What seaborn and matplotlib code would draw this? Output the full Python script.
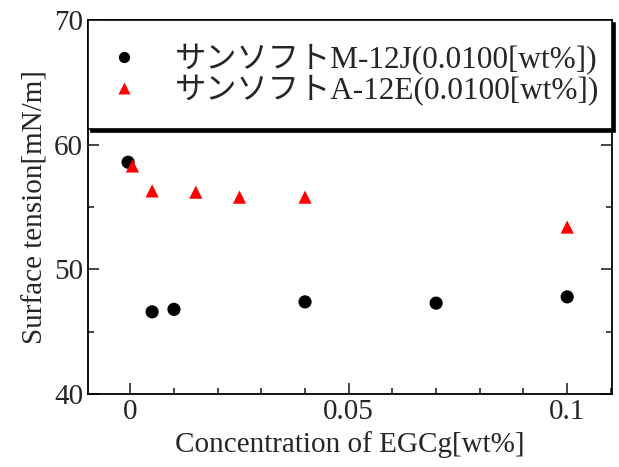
import numpy as np
import pandas as pd
import matplotlib
matplotlib.use("Agg")
import matplotlib.pyplot as plt
import seaborn as sns
from matplotlib.ticker import MultipleLocator

# data
m12j_x = [-0.0005, 0.005, 0.01, 0.04, 0.07, 0.1]
m12j_y = [58.6, 46.6, 46.8, 47.4, 47.3, 47.8]
a12e_x = [0.0005, 0.005, 0.015, 0.025, 0.04, 0.1]
a12e_y = [58.3, 56.3, 56.2, 55.8, 55.8, 53.4]
labels = ["サンソフトM-12J(0.0100[wt%])", "サンソフトA-12E(0.0100[wt%])"]

df = pd.concat([
    pd.DataFrame({"x": m12j_x, "y": m12j_y, "series": labels[0]}),
    pd.DataFrame({"x": a12e_x, "y": a12e_y, "series": labels[1]}),
])

sns.set_style("ticks")
plt.rcParams["font.family"] = ["Liberation Serif", "Noto Sans CJK JP"]

fig = plt.figure(figsize=(6.19, 4.67), dpi=100)
ax = fig.add_axes([0.142, 0.156, 0.847, 0.801])

sns.scatterplot(
    data=df, x="x", y="y", hue="series", style="series",
    palette={labels[0]: "black", labels[1]: "#ff0000"},
    markers={labels[0]: "o", labels[1]: "^"},
    s=90, edgecolor="none", ax=ax, legend=True,
)

ax.set_xlim(-0.0097, 0.1103)
ax.set_ylim(40, 70)
ax.xaxis.set_minor_locator(MultipleLocator(0.01))
ax.yaxis.set_major_locator(MultipleLocator(10))
ax.yaxis.set_minor_locator(MultipleLocator(5))
ax.set_xticks([0, 0.05, 0.1])
ax.set_xticklabels(["0", "0.05", "0.1"])
ax.tick_params(which="both", direction="in", top=True, right=True, labelsize=21, width=1.2)
ax.tick_params(which="major", length=8)
ax.tick_params(which="minor", length=4)
for sp in ax.spines.values():
    sp.set_linewidth(1.3)
    sp.set_color("black")

ax.set_xlabel("Concentration of EGCg[wt%]", fontsize=21)
ax.set_ylabel("Surface tension[mN/m]", fontsize=21)

leg = ax.legend(
    loc="upper left", bbox_to_anchor=(0, 0, 1, 1), mode="expand",
    borderaxespad=0, fontsize=22.5, frameon=True, fancybox=False,
    shadow={"color": "black", "alpha": 1}, markerscale=0.85,
    handletextpad=1.23, labelspacing=0.0, borderpad=0.75, handlelength=0.8,
)
leg.get_frame().set_edgecolor("black")
leg.get_frame().set_linewidth(1.2)
leg.get_frame().set_alpha(1)

fig.savefig("out.png", dpi=100)
